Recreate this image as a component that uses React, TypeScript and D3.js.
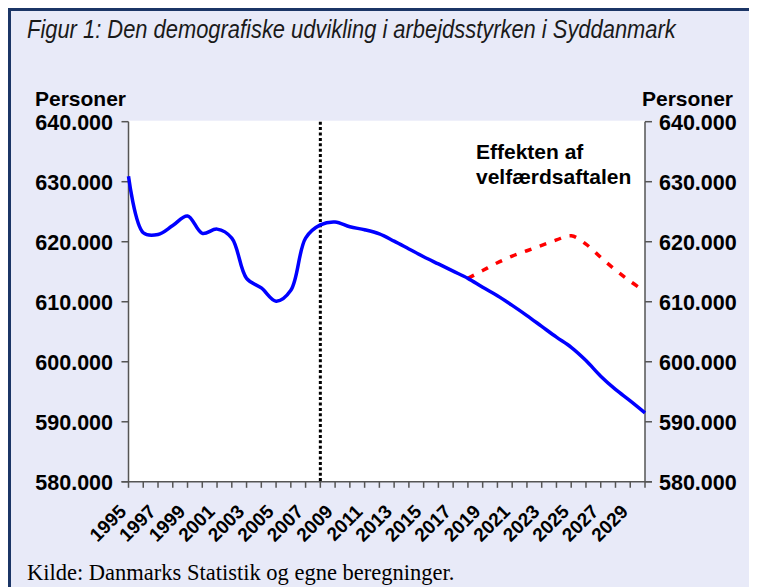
import React, { useLayoutEffect, useRef, useState } from 'react';
import * as d3 from 'd3';

const years = [1995, 1996, 1997, 1998, 1999, 2000, 2001, 2002, 2003, 2004, 2005, 2006, 2007, 2008, 2009, 2010, 2011, 2012, 2013, 2014, 2015, 2016, 2017, 2018, 2019, 2020, 2021, 2022, 2023, 2024, 2025, 2026, 2027, 2028, 2029, 2030];
const laborForce = [630900, 621500, 621200, 622700, 624300, 621400, 622100, 620600, 613900, 612300, 610100, 611900, 620600, 622800, 623300, 622500, 622000, 621300, 620100, 618800, 617500, 616300, 615100, 613900, 612400, 611000, 609400, 607700, 605900, 604100, 602400, 600200, 597600, 595400, 593500, 591500];
const effectYears = [2018, 2019, 2020, 2021, 2022, 2023, 2024, 2025, 2026, 2027, 2028, 2029, 2030];
const effectValues = [613900, 615200, 616500, 617600, 618500, 619400, 620300, 621000, 619600, 617400, 615300, 613400, 611700];
const yTicks = [580000, 590000, 600000, 610000, 620000, 630000, 640000];
const xLabelYears = [1995, 1997, 1999, 2001, 2003, 2005, 2007, 2009, 2011, 2013, 2015, 2017, 2019, 2021, 2023, 2025, 2027, 2029];
const markerYear = 2008;
const titleText = 'Figur 1: Den demografiske udvikling i arbejdsstyrken i Syddanmark';
const axisTitle = 'Personer';
const annotationLines = ['Effekten af', 'velfærdsaftalen'];
const sourceText = 'Kilde: Danmarks Statistik og egne beregninger.';

const locale = d3.formatLocale({ decimal: ',', thousands: '.', grouping: [3], currency: ['', ' kr.'] });
const fmt = locale.format(',d');

export default function App() {
  const titleRef = useRef<SVGTextElement>(null);
  const redRef = useRef<SVGPathElement>(null);
  const [titleScale, setTitleScale] = useState(1);
  const [redDash, setRedDash] = useState('7,9');

  useLayoutEffect(() => {
    if (titleRef.current) {
      const w = titleRef.current.getComputedTextLength();
      if (w > 0) setTitleScale(649 / w);
    }
    if (redRef.current) {
      const L = redRef.current.getTotalLength();
      const n = Math.max(1, Math.round(L / 16));
      const p = L / n;
      setRedDash(`${(p * 7) / 16},${(p * 9) / 16}`);
    }
  }, []);

  const left = 128.5;
  const right = 645;
  const top = 121.7;
  const bottom = 481.8;
  const x = d3.scaleLinear().domain([years[0], years[years.length - 1]]).range([left, right]);
  const y = d3.scaleLinear().domain([580000, 640000]).range([bottom, top]);

  const line = d3
    .line<[number, number]>()
    .x((d) => x(d[0]))
    .y((d) => y(d[1]))
    .curve(d3.curveCatmullRom.alpha(0.5));

  const bluePath = line(years.map((yr, i) => [yr, laborForce[i]]) as [number, number][]) || '';
  const redPath = line(effectYears.map((yr, i) => [yr, effectValues[i]]) as [number, number][]) || '';

  const bold = "'Liberation Sans', Arial, sans-serif";
  const axisColor = '#555';

  return (
    <svg width={749} height={579} style={{ display: 'block' }}>
      <g transform="translate(-8,-8)">
        <rect x={9.5} y={9.5} width={900} height={800} fill="#E8EAF8" stroke="#1B3566" strokeWidth={3} />
        <g transform={`translate(27,38) scale(${titleScale},1)`}>
          <text
            ref={titleRef}
            x={0}
            y={0}
            fontFamily="'Liberation Sans', Arial, sans-serif"
            fontStyle="italic"
            fontSize={26}
            fill="#1a1a1a"
          >
            {titleText}
          </text>
        </g>

        <rect x={left} y={top - 1} width={right - left} height={bottom - top + 1} fill="#fff" />

        {/* dotted marker line */}
        <line
          x1={x(markerYear)}
          x2={x(markerYear)}
          y1={top}
          y2={bottom}
          stroke="#000"
          strokeWidth={3}
          strokeDasharray="3,2.4"
        />

        {/* axes */}
        <line x1={left} x2={left} y1={top} y2={bottom} stroke={axisColor} strokeWidth={1.5} />
        <line x1={right} x2={right} y1={top} y2={bottom} stroke={axisColor} strokeWidth={1.5} />
        <line x1={left - 7} x2={right + 7} y1={bottom} y2={bottom} stroke={axisColor} strokeWidth={1.5} />
        {yTicks.map((t) => (
          <g key={'yt' + t}>
            <line x1={left - 7} x2={left} y1={y(t)} y2={y(t)} stroke={axisColor} strokeWidth={1.5} />
            <line x1={right} x2={right + 7} y1={y(t)} y2={y(t)} stroke={axisColor} strokeWidth={1.5} />
            <text x={113} y={y(t) + 8} textAnchor="end" fontFamily={bold} fontWeight="bold" fontSize={21.5} fill="#000">
              {fmt(t)}
            </text>
            <text x={659} y={y(t) + 8} textAnchor="start" fontFamily={bold} fontWeight="bold" fontSize={21.5} fill="#000">
              {fmt(t)}
            </text>
          </g>
        ))}
        {years.map((yr) => (
          <line key={'xt' + yr} x1={x(yr)} x2={x(yr)} y1={bottom} y2={bottom + 6} stroke={axisColor} strokeWidth={1.5} />
        ))}
        {xLabelYears.map((yr) => (
          <text
            key={'xl' + yr}
            transform={`translate(${x(yr) - 1},${bottom + 31}) rotate(-45)`}
            textAnchor="end"
            fontFamily={bold}
            fontWeight="bold"
            fontSize={19}
            fill="#000"
          >
            {yr}
          </text>
        ))}

        <text x={35} y={106} fontFamily={bold} fontWeight="bold" fontSize={21} fill="#000">
          {axisTitle}
        </text>
        <text x={642} y={106} fontFamily={bold} fontWeight="bold" fontSize={21} fill="#000">
          {axisTitle}
        </text>

        {/* series */}
        <path ref={redRef} d={redPath} fill="none" stroke="#FF0000" strokeWidth={3.5} strokeDasharray={redDash} />
        <path d={bluePath} fill="none" stroke="#0000FF" strokeWidth={3.5} strokeLinejoin="round" />

        {annotationLines.map((s, i) => (
          <text key={s} x={476} y={159 + i * 25} fontFamily={bold} fontWeight="bold" fontSize={21} fill="#000">
            {s}
          </text>
        ))}

        <text x={27} y={580} fontFamily="'Liberation Serif', 'Times New Roman', serif" fontSize={22.5} fill="#000">
          {sourceText}
        </text>
      </g>
    </svg>
  );
}
